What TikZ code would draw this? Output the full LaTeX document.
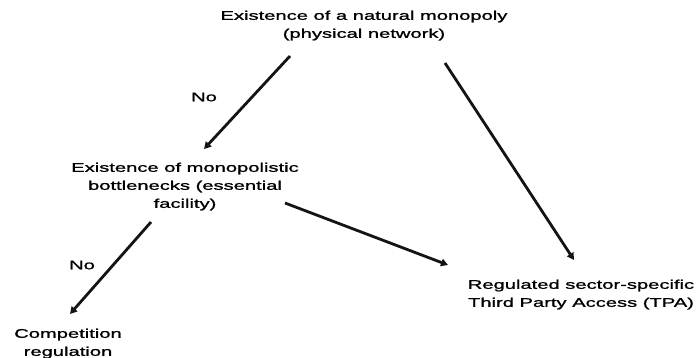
\documentclass[tikz,border=0pt]{standalone}
\usepackage{fontspec}
\setmainfont[FakeStretch=1.6,FakeBold=1.2]{Liberation Sans}
\usetikzlibrary{arrows.meta}
\begin{document}
\begin{tikzpicture}[x=1pt,y=-1pt,
  lbl/.style={inner sep=0pt,align=center,font=\fontsize{12.6}{18}\selectfont,text=black},
  arr/.style={line width=2.8pt,draw=black!92,-{Triangle[length=7pt,width=7.5pt]}},
  nolbl/.style={inner sep=0pt,font=\fontsize{12.6}{18}\selectfont}]
\useasboundingbox (0,0) rectangle (696,358);
\node[lbl,anchor=north] (top) at (364,10.5) {Existence of a natural monopoly\\(physical network)};
\node[lbl,anchor=north] (mid) at (185,162.5) {Existence of monopolistic\\bottlenecks (essential\\facility)};
\node[lbl,anchor=north] (tpa) at (581,279.5) {Regulated sector-specific\\Third Party Access (TPA)};
\node[lbl,anchor=north] (comp) at (68,328.5) {Competition\\regulation};
\coordinate (a1s) at (290,56);  \coordinate (a1e) at (204,149);
\coordinate (a2s) at (445,63);  \coordinate (a2e) at (574,260);
\coordinate (a3s) at (285,203); \coordinate (a3e) at (448,265);
\coordinate (a4s) at (151,222); \coordinate (a4e) at (70,314);
\draw[arr] (a1s) -- (a1e);
\draw[arr] (a2s) -- (a2e);
\draw[arr] (a3s) -- (a3e);
\draw[arr] (a4s) -- (a4e);
\node[nolbl] (no1) at (204,97) {No};
\node[nolbl] (no2) at (82,265) {No};
\end{tikzpicture}
\end{document}
